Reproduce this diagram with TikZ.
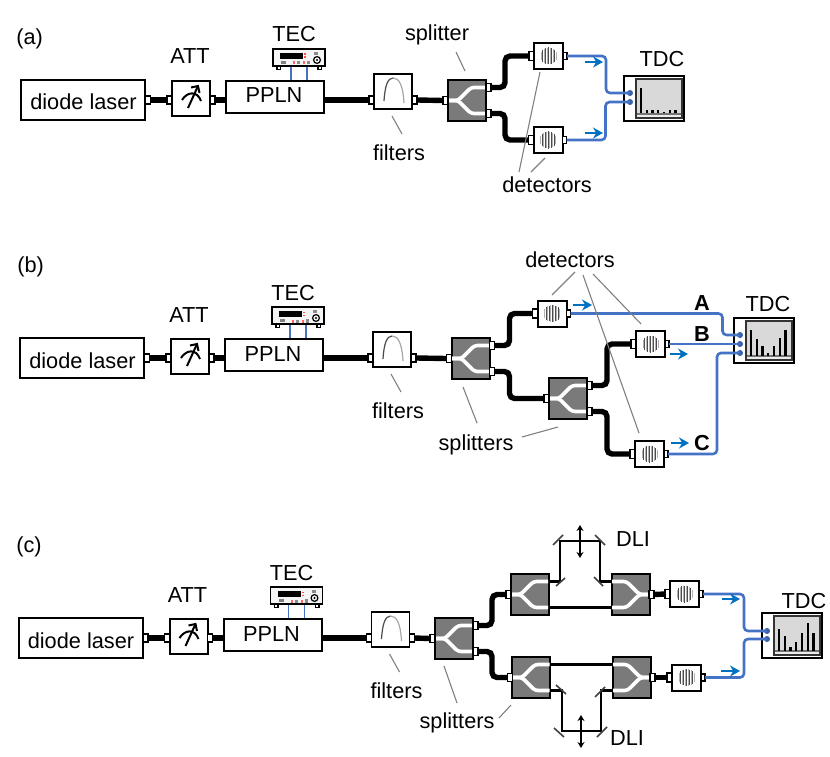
\documentclass[tikz,border=0pt]{standalone}
\usepackage{fontspec}
\setmainfont{Liberation Sans}
\usetikzlibrary{arrows.meta}
\definecolor{wireblue}{HTML}{4472C4}
\definecolor{arrowblue}{HTML}{0070C0}
\definecolor{splitgray}{HTML}{7A7A7A}
\definecolor{screengray}{HTML}{D9D9D9}
\def\px{0.75pt}
\tikzset{
  lbl/.style={font=\fontsize{16.3}{18}\selectfont,inner sep=0pt,anchor=base},
  lblb/.style={lbl,font=\fontsize{16.3}{18}\bfseries\selectfont},
  unit/.style={draw=black,fill=white,line width=2*\px,inner sep=0pt,outer sep=0pt},
  portbox/.style={draw=black,fill=white,line width=1.5*\px,inner sep=0pt,outer sep=0pt,minimum width=5*\px,minimum height=8*\px},
  fibre/.style={black,line width=5.4*\px,rounded corners=5*\px},
  armfibre/.style={black,line width=2.8*\px},
  bluewire/.style={wireblue,line width=2.6*\px,rounded corners=4*\px},
  tecwire/.style={wireblue,line width=1.7*\px},
  flowarrow/.style={arrowblue,line width=1.8*\px,-{Stealth[length=10*\px,width=11*\px]}},
  leader/.style={gray,line width=1.1*\px},
  mirror/.style={black!75,line width=1.6*\px},
  stagearrow/.style={black,line width=1.8*\px,{Stealth[length=6*\px,width=7*\px]}-{Stealth[length=6*\px,width=7*\px]}},
  pin/.style={circle,fill=wireblue!85!black,inner sep=0pt,minimum size=6*\px}
}

% Beam splitter body; #4 = 1 opens to the right, -1 opens to the left
\newcommand{\splitbody}[4]{%
  \begin{scope}[shift={(#2,#3)},xscale=#4]
    \node[unit,fill=splitgray,minimum width=38*\px,minimum height=41*\px] (#1) at (0,0) {};
    \draw[white,line width=3.6*\px,rounded corners=3*\px,line join=round] (-18.5,0) -- (-9,0) -- (4,-13) -- (18.5,-13);
    \draw[white,line width=3.6*\px,rounded corners=3*\px,line join=round] (-18.5,0) -- (-9,0) -- (4,13) -- (18.5,13);
    \coordinate (#1-i) at (-19,0);
    \coordinate (#1-a) at (19,-13);
    \coordinate (#1-b) at (19,13);
  \end{scope}}
% Splitter with a connector port on each of its three fibres
\newcommand{\splitter}[3]{%
  \splitbody{#1}{#2}{#3}{1}%
  \begin{scope}[shift={(#2,#3)}]
    \node[portbox] (#1-pi) at (-21.5,0) {};
    \node[portbox] (#1-pa) at (21.5,-13) {};
    \node[portbox] (#1-pb) at (21.5,13) {};
  \end{scope}}

% Single-photon detector with its striped element
\newcommand{\detector}[3]{%
  \begin{scope}[shift={(#2,#3)}]
    \node[unit,minimum width=29*\px,minimum height=26*\px] (#1) at (0,0) {};
    \foreach \k [evaluate=\k as \h using {8.5*sqrt(1-(\k/8.6)^2)}, count=\c] in {-7.5,-6,...,7.5} {
      \ifodd\c\relax
        \draw[black!30,line width=.9*\px] (\k,-\h) -- (\k,\h);
      \else
        \draw[black!70,line width=.9*\px] (\k,-\h) -- (\k,\h);
      \fi
    }
    \node[portbox,minimum height=9*\px] (#1-pi) at (-17,0) {};
    \node[portbox,minimum width=4*\px,minimum height=7*\px] (#1-pr) at (16.5,0) {};
  \end{scope}}

% Time-to-digital converter; #4 lists the histogram bar heights
\newcommand{\tdc}[4]{%
  \begin{scope}[shift={(#2,#3)}]
    \node[unit,minimum width=60*\px,minimum height=45*\px,anchor=north west] (#1) at (0,0) {};
    \fill[screengray] (12,3) rectangle (58,42);
    \fill[black!8] (12,38) rectangle (58,42);
    \draw[black!55,line width=1.2*\px] (12,38) -- (58,38);
    \draw[black!80,line width=2*\px] (12,3) rectangle (58,42);
    \foreach \h [count=\c from 0] in {#4} {
      \fill[black] ({15.8+5.75*\c},37.5) rectangle ({18.2+5.75*\c},{37.5-\h});
    }
  \end{scope}}

% Common input section: laser, attenuator, PPLN with its controller, filter
\newcommand{\inputchain}[3]{%
  \begin{scope}[shift={(#2,#3)}]
    \node[unit,minimum width=124*\px,minimum height=40*\px] (#1L) at (83,100) {};
    \node[lbl] (#1Lt) at (83.5,110) {diode laser};
    \node[portbox] (#1L-pr) at (148,100) {};
    \node[unit,minimum width=38*\px,minimum height=35*\px] (#1A) at (191,98.5) {};
    \node[portbox] (#1A-pi) at (169.5,100) {};
    \node[portbox] (#1A-pr) at (212.5,100) {};
    \draw[black,line width=2*\px] (182,100) .. controls (187,92) and (197,90) .. (201,101);
    \draw[black,line width=2*\px] (188,108) -- (198,86);
    \draw[black,line width=2*\px] (191,87.5) -- (198,86) -- (199.5,93);
    \node[lbl] (#1At) at (190,64) {ATT};
    \node[unit,minimum width=98*\px,minimum height=32*\px] (#1P) at (275,97) {};
    \node[lbl] (#1Pt) at (274,103) {PPLN};
    % temperature controller front panel
    \node[unit,line width=1.5*\px,fill=black!4,minimum width=52*\px,minimum height=17*\px] (#1T) at (299,57.5) {};
    \fill[black] (280,53) rectangle (303,59);
    \fill[black!50] (281,61) rectangle (286,64);
    \fill[black!45] (314,52) rectangle (318,55);
    \fill[black!45] (297,61.5) rectangle (300,64.5);
    \fill[black!45] (307,61) rectangle (310,64.5);
    \fill[red!70] (304,53.5) rectangle (306,55);
    \fill[red!70] (304,56.5) rectangle (306,58);
    \fill[red!60] (293,61.5) rectangle (295,64.5);
    \fill[red!60] (303,61.5) rectangle (305,64.5);
    \draw[black,line width=1.2*\px] (317,60) circle (3.4);
    \fill[black] (317,60) circle (1.2);
    \draw[black,fill=white,line width=1.2*\px] (277,66) rectangle (280.5,69.5);
    \draw[black,fill=white,line width=1.2*\px] (318,66) rectangle (321.5,69.5);
    \node[lbl] (#1Tt) at (294,42) {TEC};
    \coordinate (#1T1) at (291,67);
    \coordinate (#1T2) at (307,67);
    \coordinate (#1P1) at (291,80);
    \coordinate (#1P2) at (307,80);
    \draw[tecwire] (#1T1) -- (#1P1);
    \draw[tecwire] (#1T2) -- (#1P2);
    \node[unit,line width=1.6*\px,minimum width=38*\px,minimum height=35*\px] (#1F) at (393,91.5) {};
    \node[portbox] (#1F-pi) at (371.5,100) {};
    \node[portbox] (#1F-pr) at (414.5,100) {};
    \draw[black!70,line width=1.2*\px] (384,101) .. controls (385,85) and (388,78) .. (393,78);
    \draw[black!35,line width=1.2*\px] (393,78) .. controls (399,78) and (403,85) .. (404,103);
    \coordinate (#1F1) at (392,116);
    \coordinate (#1F2) at (402,134);
    \draw[leader] (#1F1) -- (#1F2);
    \node[lbl] (#1Ft) at (399,160) {filters};
    \draw[fibre,line width=6*\px] (#1L-pr.east) -- (#1A-pi.west);
    \draw[fibre,line width=6*\px] (#1A-pr.east) -- (#1P.west |- #1A-pr.east);
    \draw[fibre] (#1P.east |- #1F-pi.west) -- (#1F-pi.west);
  \end{scope}}

\begin{document}
\begin{tikzpicture}[x=0.75pt,y=-0.75pt]
\useasboundingbox (0,0) rectangle (830,756);

% ---------- (a) one splitter, two detectors ----------
\node[lbl,anchor=base west] (labela) at (16,45) {(a)};
\inputchain{a}{0}{0}
\splitter{aS}{467}{100.5}
\detector{aD1}{548.5}{56}
\detector{aD2}{548}{140}
\tdc{aC}{624}{76}{25,3,3,3,1.5,3,3}
\node[pin] (aC1) at (630,93) {};
\node[pin] (aC2) at (630,102) {};
\draw[fibre] (aF-pr.east) -- (aS-pi.west);
\draw[fibre] (aS-pa.east) -- ++(14,0) |- (aD1-pi.west);
\draw[fibre] (aS-pb.east) -- ++(14,0) |- (aD2-pi.west);
\draw[bluewire] (aD1-pr.east) -- ++(39,0) |- (aC1.center);
\draw[bluewire] (aD2-pr.east) -- ++(39,0) |- (aC2.center);
\node[lbl] (aTDC) at (662,67) {TDC};
\coordinate (aFa1) at (585,62); \coordinate (aFa2) at (603,62);
\coordinate (aFb1) at (585,133); \coordinate (aFb2) at (603,133);
\draw[flowarrow] (aFa1) -- (aFa2);
\draw[flowarrow] (aFb1) -- (aFb2);
\node[lbl] (aSt) at (437,41) {splitter};
\coordinate (aSl1) at (456,52); \coordinate (aSl2) at (465,71);
\draw[leader] (aSl1) -- (aSl2);
\node[lbl] (aDt) at (547,192) {detectors};
\coordinate (aDl0) at (519,172); \coordinate (aDl1) at (540,72);
\coordinate (aDl2) at (531,172); \coordinate (aDl3) at (545,158);
\draw[leader] (aDl0) -- (aDl1);
\draw[leader] (aDl2) -- (aDl3);

% ---------- (b) cascaded splitters, three detectors ----------
\node[lbl,anchor=base west] (labelb) at (17,272) {(b)};
\inputchain{b}{-1}{258}
\splitter{bS}{470.5}{358.5}
\splitter{bR}{568}{398.5}
\detector{bD1}{552}{313.5}
\detector{bD2}{650.5}{344}
\detector{bD3}{649.5}{454}
\tdc{bC}{734}{318}{26,17,10,3,10,18,26}
\node[pin] (bC1) at (740,335) {};
\node[pin] (bC2) at (740,344) {};
\node[pin] (bC3) at (740,353) {};
\draw[fibre] (bF-pr.east) -- (bS-pi.west);
\draw[fibre] (bS-pa.east) -- ++(15,0) |- (bD1-pi.west);
\draw[fibre] (bS-pb.east) -- ++(15,0) |- (bR-pi.west);
\draw[fibre] (bR-pa.east) -- ++(15,0) |- (bD2-pi.west);
\draw[fibre] (bR-pb.east) -- ++(15,0) |- (bD3-pi.west);
\draw[bluewire] (bD1-pr.east) -- ++(152,0) |- (bC1.center);
\draw[bluewire] (bD2-pr.east) -- (bC2.center);
\draw[bluewire] (bD3-pr.east) -- ++(49,0) |- (bC3.center);
\node[lbl] (bTDC) at (768,311) {TDC};
\node[lblb] (bA) at (702,310) {A};
\node[lblb] (bB) at (702,341) {B};
\node[lblb] (bCc) at (702,450) {C};
\coordinate (bFa1) at (573,305); \coordinate (bFa2) at (592,305);
\coordinate (bFb1) at (670,354); \coordinate (bFb2) at (688,354);
\coordinate (bFc1) at (671,443); \coordinate (bFc2) at (689,443);
\draw[flowarrow] (bFa1) -- (bFa2);
\draw[flowarrow] (bFb1) -- (bFb2);
\draw[flowarrow] (bFc1) -- (bFc2);
\node[lbl] (bDt) at (570,267) {detectors};
\coordinate (bDl0) at (575,272); \coordinate (bDl1) at (552,295);
\coordinate (bDl2) at (583,275); \coordinate (bDl3) at (639,433);
\coordinate (bDl4) at (593,274); \coordinate (bDl5) at (641,324);
\draw[leader] (bDl0) -- (bDl1);
\draw[leader] (bDl2) -- (bDl3);
\draw[leader] (bDl4) -- (bDl5);
\node[lbl] (bSt) at (476,450) {splitters};
\coordinate (bSl0) at (463,387); \coordinate (bSl1) at (477,423);
\coordinate (bSl2) at (522,437); \coordinate (bSl3) at (558,427);
\draw[leader] (bSl0) -- (bSl1);
\draw[leader] (bSl2) -- (bSl3);

% ---------- (c) two delay-line interferometers ----------
\node[lbl,anchor=base west] (labelc) at (16,552) {(c)};
\inputchain{c}{-2.5}{538}
\splitter{cS}{454}{638.5}
% upper interferometer
\splitbody{cU}{529.5}{594.5}{1}
\splitbody{cV}{630.5}{594.5}{-1}
\node[portbox] (cU-pi) at (508.5,594.5) {};
\node[portbox] (cV-pr) at (651.5,594.5) {};
% lower interferometer
\splitbody{cW}{531}{677.5}{1}
\splitbody{cX}{631.5}{677.5}{-1}
\node[portbox] (cW-pi) at (510,677.5) {};
\node[portbox] (cX-pr) at (652.5,677.5) {};
\detector{cD1}{684.5}{594}
\detector{cD2}{686.5}{677.5}
\tdc{cC}{762}{613}{22,15,4,9,18,28,18}
\node[pin] (cC1) at (767,631) {};
\node[pin] (cC2) at (767,639) {};
\draw[fibre] (cF-pr.east) -- (cS-pi.west);
\draw[fibre] (cS-pa.east) -- ++(14,0) |- (cU-pi.west);
\draw[fibre] (cS-pb.east) -- ++(14,0) |- (cW-pi.west);
\draw[fibre] (cV-pr.east) -- (cD1-pi.west);
\draw[fibre] (cX-pr.east) -- (cD2-pi.west);
\draw[bluewire] (cD1-pr.east) -- ++(41,0) |- (cC1.center);
\draw[bluewire] (cD2-pr.east) -- ++(39,0) |- (cC2.center);
\draw[armfibre] (cU-b) -- (cV-b);
\draw[armfibre] (cU-a) -- (560,581.5) -- (560,541) -- (600,541) -- (600,581.5) -- (cV-a);
\draw[armfibre] (cW-a) -- (cX-a);
\draw[armfibre] (cW-b) -- (562,690.5) -- (562,731) -- (601,731) -- (601,690.5) -- (cX-b);
% delay-arm mirrors
\draw[mirror] (553,545) -- (563,535);
\draw[mirror] (595,535) -- (605,545);
\draw[mirror] (556,586) -- (565,578);
\draw[mirror] (594,577) -- (603,586);
\draw[mirror] (556,685) -- (566,694);
\draw[mirror] (595,697) -- (605,687);
\draw[mirror] (554,728) -- (564,737);
\draw[mirror] (597,737) -- (607,727);
\coordinate (cAu1) at (580,525); \coordinate (cAu2) at (580,558);
\coordinate (cAl1) at (581,715); \coordinate (cAl2) at (581,748);
\draw[stagearrow] (cAu1) -- (cAu2);
\draw[stagearrow] (cAl1) -- (cAl2);
\node[lbl] (cDLIu) at (633,546) {DLI};
\node[lbl] (cDLIl) at (627,745) {DLI};
\node[lbl] (cTDC) at (804,608) {TDC};
\coordinate (cFa1) at (722,599); \coordinate (cFa2) at (740,599);
\coordinate (cFb1) at (721,671); \coordinate (cFb2) at (740,671);
\draw[flowarrow] (cFa1) -- (cFa2);
\draw[flowarrow] (cFb1) -- (cFb2);
\node[lbl] (cSt) at (457,728) {splitters};
\coordinate (cSl0) at (444,666); \coordinate (cSl1) at (457,703);
\coordinate (cSl2) at (499,718); \coordinate (cSl3) at (511,705);
\draw[leader] (cSl0) -- (cSl1);
\draw[leader] (cSl2) -- (cSl3);
\end{tikzpicture}
\end{document}
